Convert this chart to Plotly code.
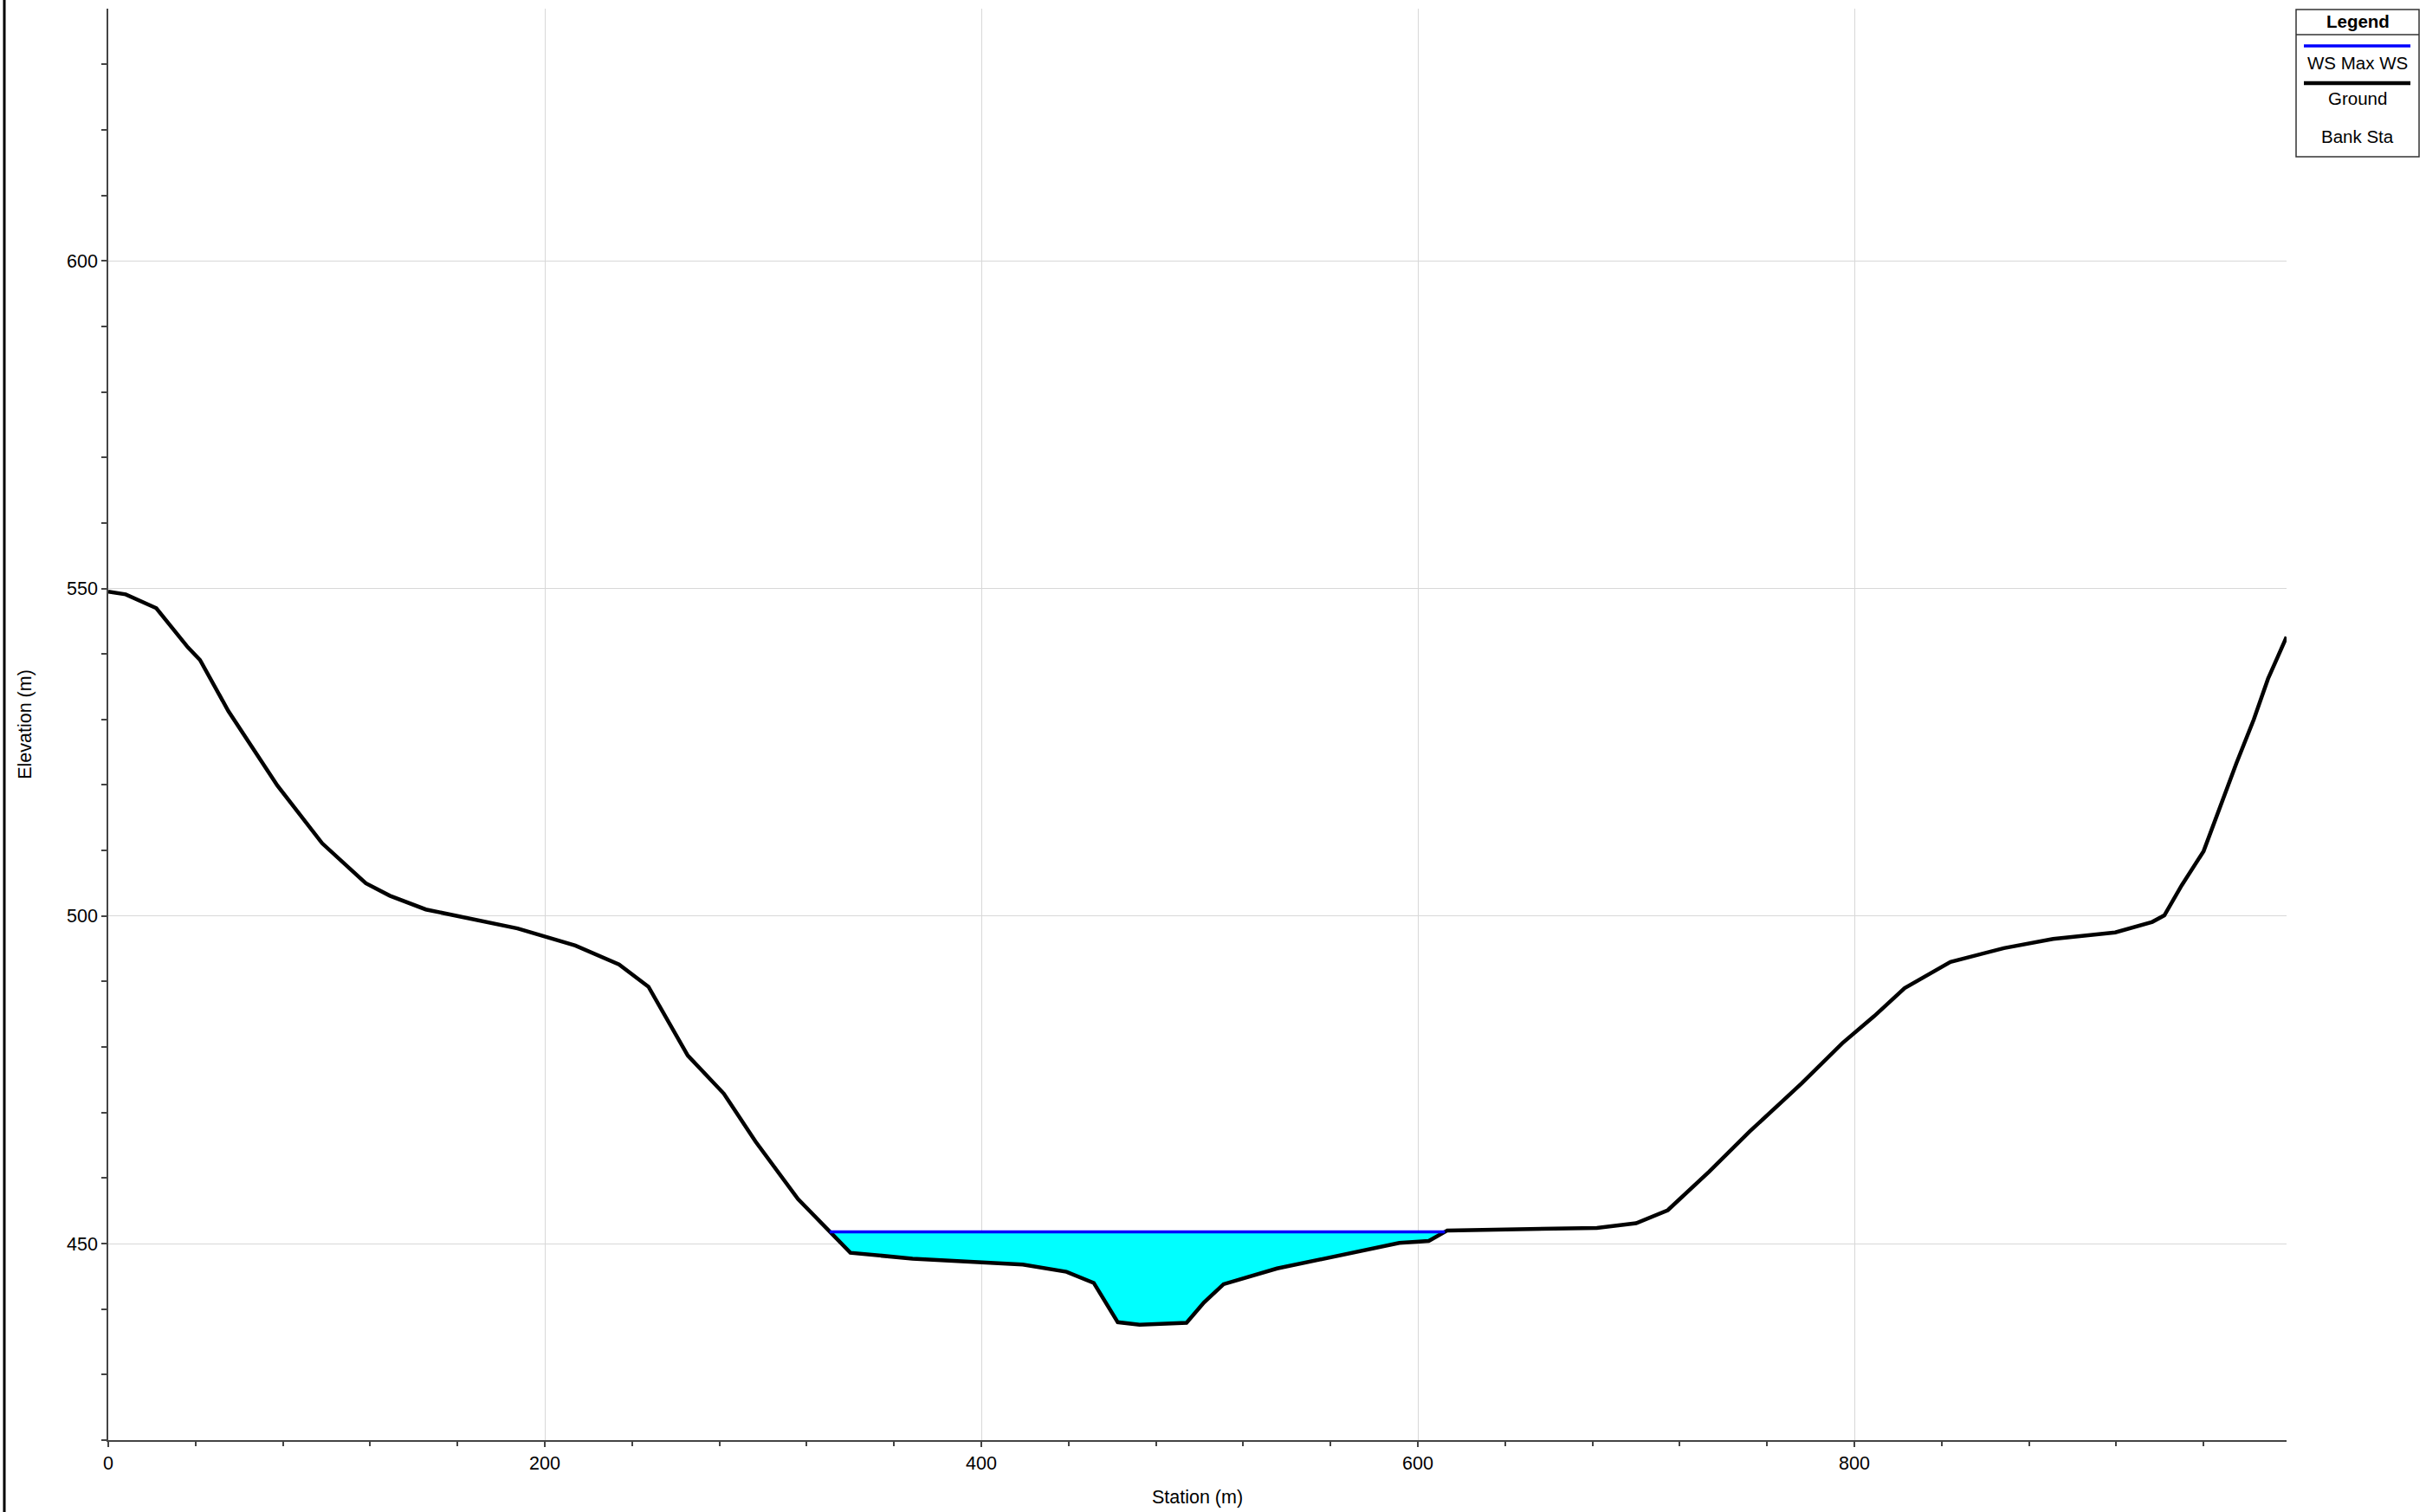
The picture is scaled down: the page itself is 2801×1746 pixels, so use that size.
import numpy as np
import plotly.graph_objects as go

# ground profile
station = [0, 8, 22, 36.5, 42, 55, 77.5, 98, 118, 129, 145.5, 160, 187.5, 214,
           234, 247.5, 265.5, 282, 296.5, 316, 340, 368.5, 419, 439, 451.5,
           462.5, 472.5, 494, 502, 511, 535.5, 591.5, 605, 613.5, 682, 700,
           714.5, 733.5, 752, 776, 794.5, 809, 823, 844, 868.5, 891, 919.5,
           936.5, 942, 950, 960, 975, 983, 989.5, 998]
elevation = [549.5, 549.1, 547.0, 541.0, 539.1, 531.3, 519.9, 511.1, 505.0,
             503.1, 501.0, 500.0, 498.1, 495.5, 492.6, 489.2, 478.7, 472.9,
             465.6, 456.8, 448.6, 447.7, 446.8, 445.7, 444.0, 438.0, 437.6,
             437.9, 441.0, 443.8, 446.2, 450.1, 450.4, 452.0, 452.4, 453.1,
             455.1, 461.0, 467.1, 474.5, 480.6, 484.7, 489.0, 493.0, 495.1,
             496.5, 497.5, 499.1, 500.1, 504.7, 509.9, 523.3, 530.0, 536.2,
             542.6]

# water surface
ws_elev = 451.8
ws_left = 330.5
ws_right = 612.4

x_ticks = [0, 200, 400, 600, 800]
y_ticks = [450, 500, 550, 600]
legend_title = "Legend"
legend_items = ["WS Max WS", "Ground", "Bank Sta"]

W, H = 2801, 1746
ML, MR, MT, MB = 125, 161, 10, 83
FONT = "Liberation Sans, Arial, sans-serif"


def px(X):
    return (X - ML) / (W - ML - MR)


def py(Y):
    return (H - MB - Y) / (H - MT - MB)


st = np.array(station)
el = np.array(elevation)
inside = (st > ws_left) & (st < ws_right)
fill_x = [ws_left] + list(st[inside]) + [ws_right]
fill_y = [ws_elev] + list(el[inside]) + [ws_elev]

fig = go.Figure()
fig.add_trace(go.Scatter(x=fill_x, y=fill_y, mode="lines", fill="toself",
                         fillcolor="#00FFFF", line=dict(width=0),
                         showlegend=False, hoverinfo="skip"))
fig.add_trace(go.Scatter(x=station, y=elevation, mode="lines",
                         line=dict(color="black", width=4.5),
                         name="Ground", showlegend=False))
fig.add_trace(go.Scatter(x=[ws_left, ws_right], y=[ws_elev, ws_elev],
                         mode="lines", line=dict(color="#0000FF", width=3.5),
                         name="WS Max WS", showlegend=False))

axis_common = dict(showgrid=True, gridcolor="#d8d8d8", gridwidth=1.3,
                   zeroline=False, showline=True, linecolor="#444444",
                   linewidth=1.5, ticks="outside", ticklen=6,
                   tickcolor="#444444", tickwidth=1.5,
                   tickfont=dict(size=21.5, color="black", family=FONT))

fig.update_xaxes(range=[0, 998], tickvals=x_ticks,
                 minor=dict(dtick=40, tick0=0, ticks="outside", ticklen=5,
                            tickcolor="#444444", showgrid=False),
                 title=dict(text="Station (m)", standoff=20,
                            font=dict(size=21.5, color="black", family=FONT)),
                 **axis_common)
fig.update_yaxes(range=[420, 638.5], tickvals=y_ticks,
                 minor=dict(dtick=10, tick0=0, ticks="outside", ticklen=6,
                            tickcolor="#444444", showgrid=False),
                 title=dict(text="Elevation (m)", standoff=35,
                            font=dict(size=21.5, color="black", family=FONT)),
                 **axis_common)

shapes = [
    # left window border
    dict(type="line", xref="paper", yref="paper", x0=px(5), x1=px(5),
         y0=py(0), y1=py(H), line=dict(color="black", width=3)),
    # legend box
    dict(type="rect", xref="paper", yref="paper", x0=px(2651), x1=px(2793),
         y0=py(181), y1=py(11), line=dict(color="#333333", width=1.5),
         fillcolor="white"),
    dict(type="line", xref="paper", yref="paper", x0=px(2651), x1=px(2793),
         y0=py(40), y1=py(40), line=dict(color="#333333", width=1.5)),
    dict(type="line", xref="paper", yref="paper", x0=px(2660), x1=px(2783),
         y0=py(53), y1=py(53), line=dict(color="#0000FF", width=3.5)),
    dict(type="line", xref="paper", yref="paper", x0=px(2660), x1=px(2783),
         y0=py(96), y1=py(96), line=dict(color="black", width=4.5)),
]

annotations = [dict(text="<b>%s</b>" % legend_title, x=px(2722), y=py(24))]
for label, Y in zip(legend_items, [73, 114, 157]):
    annotations.append(dict(text=label, x=px(2722), y=py(Y)))
for a in annotations:
    a.update(xref="paper", yref="paper", showarrow=False, xanchor="center",
             yanchor="middle", font=dict(size=20.5, color="black", family=FONT))

fig.update_layout(width=W, height=H,
                  margin=dict(l=ML, r=MR, t=MT, b=MB),
                  paper_bgcolor="white", plot_bgcolor="white",
                  font=dict(family=FONT, color="black"),
                  shapes=shapes, annotations=annotations,
                  showlegend=False)

fig.write_html("out.html", config={"displayModeBar": False},
               post_script="document.body.style.margin='0';")
